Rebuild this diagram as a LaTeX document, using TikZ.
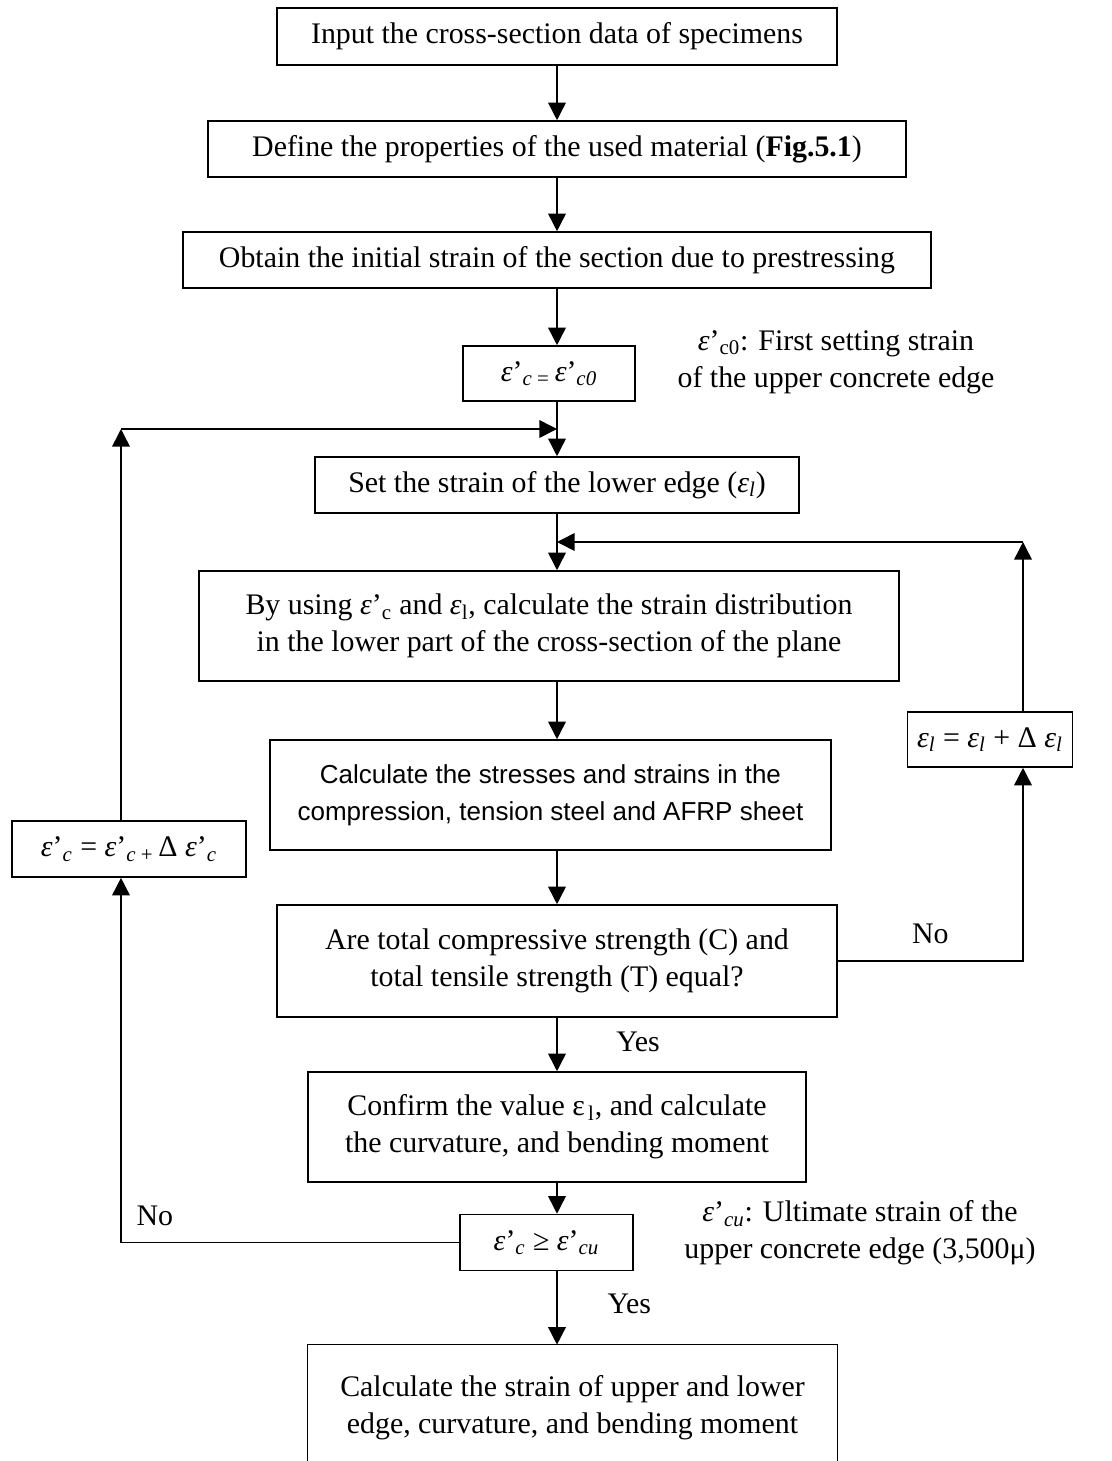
\documentclass[tikz,border=0pt]{standalone}
\usepackage{fontspec}
\setmainfont{Liberation Serif}
\setsansfont{Liberation Sans}
\usetikzlibrary{arrows.meta}
\def\ep{\textit{ε}}
\def\lo#1{\textsubscript{#1}}

\begin{document}
\begin{tikzpicture}[x=0.02cm,y=-0.02cm]
			\tikzstyle{every node}=[font=\fontsize{17}{21}\selectfont]
			\tikzstyle{box}=[draw, line width=0.9pt, align=center, inner sep=0pt]
			\tikzstyle{flow}=[line width=0.9pt, -{Triangle[length=10pt,width=10pt]}]
			\useasboundingbox (0,0) rectangle (1112,1461);
			
			% main column
			\coordinate (axis) at (557,0);
			\node[box, minimum width=11.2cm, minimum height=1.14cm] (input) at (557,36.5) {Input the cross-section data of specimens};
			\node[box, minimum width=13.96cm, minimum height=1.12cm] (material) at (557,149) {Define the properties of the used material (\textbf{Fig.5.1})};
			\node[box, minimum width=14.96cm, minimum height=1.12cm] (initial) at (557,260) {Obtain the initial strain of the section due to prestressing};
			\node[box, minimum width=3.44cm, minimum height=1.1cm] (setc) at (549,373.5) {\ep’\lo{\textit{c} =}\,\ep’\lo{\textit{c0}}};
			\node[box, minimum width=9.68cm, minimum height=1.12cm] (setl) at (557,485) {Set the strain of the lower edge (\ep\lo{\textit{l}})};
			\node[box, minimum width=14cm, minimum height=2.2cm] (distrib) at (549,626) {By using \ep’\lo{c} and \ep\lo{l}, calculate the strain distribution\\in the lower part of the cross-section of the plane};
			\node[box, minimum width=11.22cm, minimum height=2.2cm, font=\sffamily\fontsize{14.8}{21}\selectfont] (stress) at (550.5,795) {Calculate the stresses and strains in the\\compression, tension steel and AFRP sheet};
			\node[box, minimum width=11.2cm, minimum height=2.24cm] (equal) at (557,961) {Are total compressive strength (C) and\\total tensile strength (T) equal?};
			\node[box, minimum width=9.96cm, minimum height=2.2cm] (confirm) at (557,1127) {Confirm the value ε\lo{\,l}, and calculate\\the curvature, and bending moment};
			\node[box, minimum width=3.46cm, minimum height=1.12cm] (ultim) at (546.5,1242.5) {\ep’\lo{\textit{c}} ≥ \ep’\lo{\textit{cu}}};
			\node[align=center, minimum width=10.58cm, minimum height=2.5cm, inner sep=0pt] (result) at (572.5,1407.5) {Calculate the strain of upper and lower\\edge, curvature, and bending moment};
			\draw[line width=0.9pt] (result.south west) |- (result.north east) -- (result.south east);
			
			% side boxes
			\node[box, minimum width=3.3cm, minimum height=1.1cm] (incl) at (990,739.5) {\ep\lo{\textit{l}} = \ep\lo{\textit{l}} + Δ \ep\lo{\textit{l}}};
			\node[box, minimum width=4.68cm, minimum height=1.12cm] (incc) at (129,849) {\ep’\lo{\textit{c}} = \ep’\lo{\textit{c} +}\,Δ \ep’\lo{\textit{c}}};
			
			% notes
			\node[align=center] (notec0) at (836,362) {\ep’\lo{c0}: First setting strain\\of the upper concrete edge};
			\node[align=center] (notecu) at (860,1233) {\ep’\lo{\textit{cu}}: Ultimate strain of the\\upper concrete edge (3,500μ)};
			
			\draw[flow] (input.south -| axis) -- (material.north -| axis);
			\draw[flow] (material.south -| axis) -- (initial.north -| axis);
			\draw[flow] (initial.south -| axis) -- (setc.north -| axis);
			\draw[flow] (setc.south -| axis) -- (setl.north -| axis);
			\draw[flow] (setl.south -| axis) -- (distrib.north -| axis);
			\draw[flow] (distrib.south -| axis) -- (stress.north -| axis);
			\draw[flow] (stress.south -| axis) -- (equal.north -| axis);
			\draw[flow] (equal.south -| axis) -- (confirm.north -| axis) node[pos=0.45, right=30pt] (yes1) {Yes};
			\draw[flow] (confirm.south -| axis) -- (ultim.north -| axis);
			\draw[flow] (ultim.south -| axis) -- (result.north -| axis) node[pos=0.45, right=25pt] (yes2) {Yes};
			
			% loop for the lower edge strain
			\coordinate (rloop) at (1023,542);
			\draw[flow] (equal.east) -| (rloop |- incl.south) node[pos=0.25, above=6pt] (no1) {No};
			\draw[flow] (rloop |- incl.north) -- (rloop);
			\draw[flow] (rloop) -- (rloop -| axis);
			
			% loop for the upper edge strain
			\coordinate (lloop) at (121,429);
			\draw[flow] (ultim.west) -| (lloop |- incc.south) node[pos=0.45, above=6pt] (no2) {No};
			\draw[flow] (lloop |- incc.north) -- (lloop);
			\draw[flow] (lloop) -- (lloop -| axis);
\end{tikzpicture}
\end{document}
